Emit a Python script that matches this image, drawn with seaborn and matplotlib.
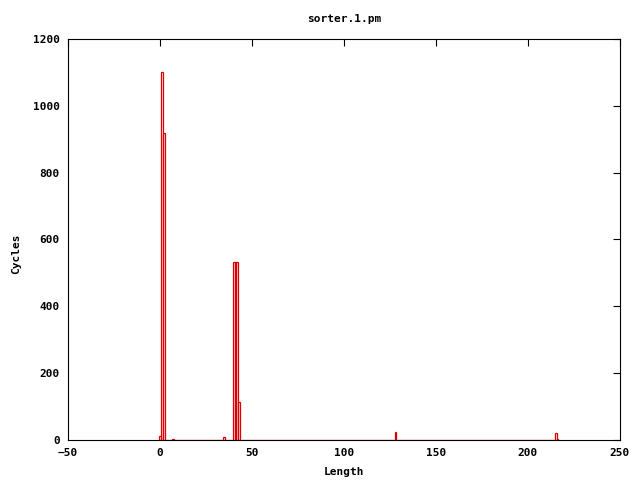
import matplotlib
matplotlib.use("Agg")
import matplotlib.pyplot as plt
import seaborn as sns
import pandas as pd

# Lengths and cycle counts
lengths = [0, 1, 2, 7, 35, 40, 41, 42, 43, 128, 215, 216]
cycles = [12, 1100, 920, 3, 8, 532, 532, 532, 113, 23, 20, 3]

data = pd.DataFrame({"Length": lengths, "Cycles": cycles})

sns.set_style("white")
plt.rcParams["font.family"] = ["DejaVu Sans Mono"]
plt.rcParams["font.weight"] = "bold"
plt.rcParams["font.size"] = 8
plt.rcParams["text.color"] = "black"
plt.rcParams["xtick.color"] = "black"
plt.rcParams["ytick.color"] = "black"

fig = plt.figure(figsize=(6.4, 4.8), dpi=100)
ax = fig.add_axes([68 / 640, 1 - 440 / 480, 552 / 640, 401 / 480])

sns.histplot(data=data, x="Length", weights="Cycles", discrete=True,
             element="bars", fill=False, color="#dd0000", linewidth=0.9, ax=ax)

ax.set_xlim(-50, 250)
ax.set_ylim(0, 1200)
ax.set_xticks(range(-50, 251, 50))
ax.set_yticks(range(0, 1201, 200))
ax.tick_params(direction="in", length=5, width=0.8, top=True, right=True,
               labelsize=8, pad=6, colors="black")
for s in ax.spines.values():
    s.set_color("black")
    s.set_linewidth(0.8)

ax.set_xlabel("Length", fontsize=8, fontweight="bold", color="black")
ax.set_ylabel("Cycles", fontsize=8, fontweight="bold", color="black")
ax.xaxis.set_label_coords(0.5, -0.068)
ax.yaxis.set_label_coords(-0.085, 0.464)
ax.set_title("sorter.1.pm", fontsize=8, fontweight="bold", color="black",
             y=1.043, pad=0)

fig.savefig("out.png", dpi=100)
